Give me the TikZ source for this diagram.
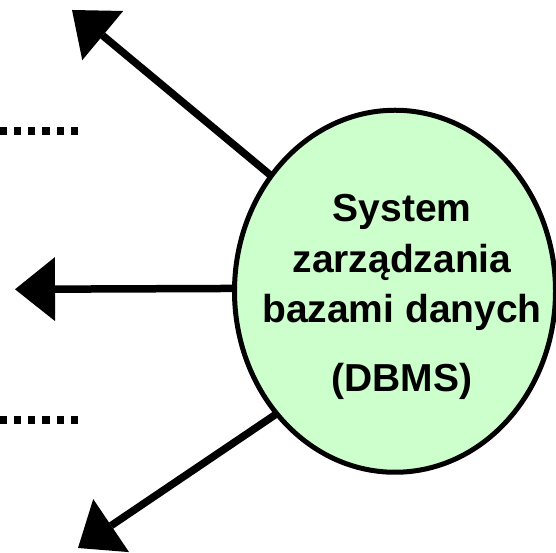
\documentclass[tikz,border=0pt]{standalone}
\usepackage{fontspec}
\setmainfont{Liberation Sans}
\usetikzlibrary{arrows.meta,shapes.geometric}
\pgfdeclarelayer{bg}
\pgfsetlayers{bg,main}
\definecolor{dbgreen}{HTML}{CCFFCC}
\begin{document}
\begin{tikzpicture}[x=1pt,y=1pt,
  dbms/.style={ellipse, draw=black, line width=5pt, fill=dbgreen,
    minimum width=321pt, minimum height=362pt, inner sep=0pt, outer sep=0pt},
  flow/.style={line width=7.5pt, -{Triangle[length=40pt,width=64pt,line width=0pt]},
    shorten <=-6pt},
  dots/.style={line width=8pt, dash pattern=on 7.3pt off 6.9pt},
  lbl/.style={font=\fontsize{39}{45}\selectfont\bfseries, anchor=base, inner sep=0pt}]
\useasboundingbox (0,0) rectangle (556,553);
\clip (0,0) rectangle (556,553);
\node[dbms] (E) at (395,261.75) {};
\coordinate (tipA) at (72,543);
\coordinate (tipB) at (15,263.7);
\coordinate (tipC) at (78,5);
\begin{pgfonlayer}{bg}
\draw[flow] (E.137.6) -- (tipA);
\draw[flow] (E.179.3) -- (tipB);
\draw[flow] (E.226.4) -- (tipC);
\end{pgfonlayer}
\coordinate (d1a) at (78,422);
\coordinate (d1b) at (0,422);
\coordinate (d2a) at (78,133);
\coordinate (d2b) at (0,133);
\draw[dots] (d1a) -- (d1b);
\draw[dots] (d2a) -- (d2b);
\node[lbl] (t1) at (402,331) {System};
\node[lbl] (t2) at (402,280.7) {zarządzania};
\node[lbl] (t3) at (402,230) {bazami danych};
\node[lbl] (t4) at (402,161) {(DBMS)};
\end{tikzpicture}
\end{document}
